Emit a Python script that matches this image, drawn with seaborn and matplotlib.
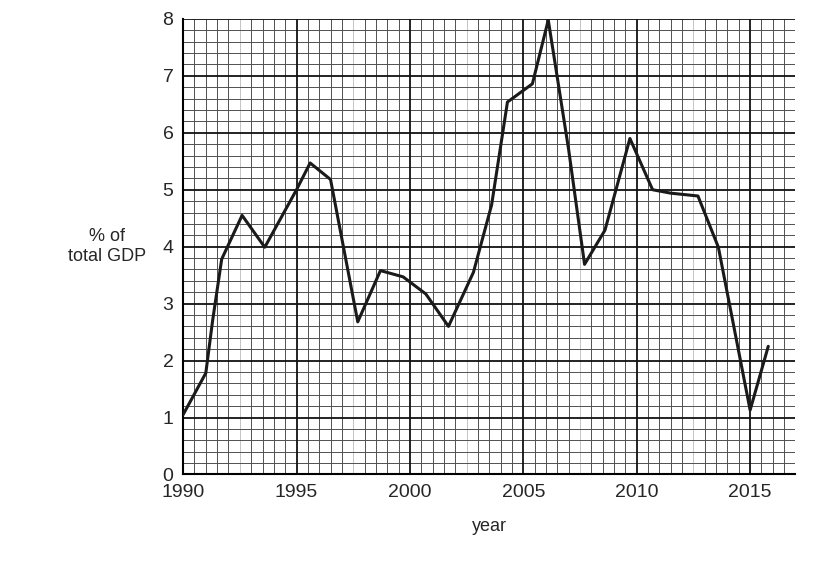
import numpy as np
import seaborn as sns
import matplotlib.pyplot as plt

# values
years = [1990.0, 1991.0, 1991.3, 1991.7, 1992.6, 1993.6, 1995.0, 1995.6, 1996.5, 1997.7,
         1998.7, 1999.7, 2000.7, 2001.7, 2002.8, 2003.6, 2004.3, 2005.4, 2006.1, 2007.0,
         2007.7, 2008.6, 2009.7, 2010.7, 2011.5, 2012.7, 2013.6, 2015.0, 2015.8]
gdp_pct = [1.05, 1.78, 2.7, 3.78, 4.55, 3.99, 5.0, 5.47, 5.18, 2.68,
           3.58, 3.47, 3.17, 2.6, 3.55, 4.73, 6.54, 6.86, 7.98, 5.7,
           3.69, 4.29, 5.9, 5.0, 4.94, 4.89, 3.99, 1.13, 2.25]

sns.set_style("white")
plt.rcParams['font.family'] = ['Liberation Sans', 'DejaVu Sans']

fig, ax = plt.subplots(figsize=(8.4, 5.73), dpi=100)
fig.subplots_adjust(left=0.218, right=0.947, top=0.967, bottom=0.172)

# graph paper grid
for x in np.arange(1990, 2017.01, 0.5):
    if x % 5 == 0:
        continue
    c = '#c4c4c4' if x % 2.5 == 0 else '#505050'
    ax.axvline(x, color=c, lw=0.7, zorder=0)
for y in np.arange(0, 8.01, 0.2):
    if abs(y - round(y)) < 1e-6:
        continue
    ax.axhline(y, color='#505050', lw=0.7, zorder=0)
for x in range(1995, 2017, 5):
    ax.axvline(x, color='#111111', lw=1.3, zorder=1)
for y in range(1, 9):
    ax.axhline(y, color='#111111', lw=1.3, zorder=1)

sns.lineplot(x=years, y=gdp_pct, ax=ax, color='#1a1a1a', lw=2.2, zorder=3)

ax.set_xlim(1990, 2017)
ax.set_ylim(0, 8)
ax.set_xticks(range(1990, 2016, 5))
ax.set_yticks(range(0, 9))
ax.tick_params(labelsize=14, length=5, direction='out', color='black', pad=2)
for s in ['top', 'right']:
    ax.spines[s].set_visible(False)
for s in ['left', 'bottom']:
    ax.spines[s].set_color('black')
    ax.spines[s].set_linewidth(1.5)
ax.set_xlabel('year', fontsize=13, labelpad=12)
ax.set_ylabel('% of\ntotal GDP', fontsize=13, rotation=0, ha='center', va='center', labelpad=40)

plt.savefig('out.png')
